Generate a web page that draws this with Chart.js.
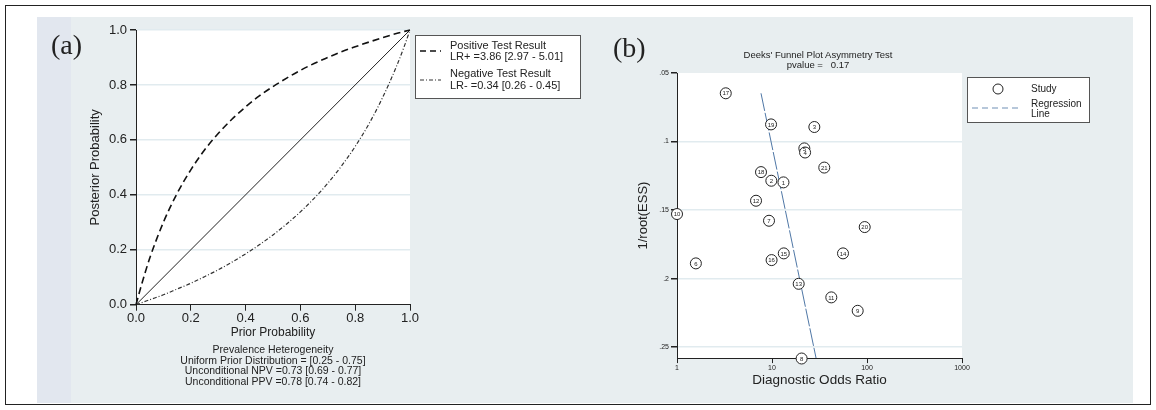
<!DOCTYPE html>
<html>
<head>
<meta charset="utf-8">
<script src="https://cdn.jsdelivr.net/npm/chart.js@4.4.1/dist/chart.umd.min.js"></script>
<style>
  body { margin: 0; background: #fff; font-family: "Liberation Sans", Arial, sans-serif; color: #222; }
  #wrap { position: relative; width: 1156px; height: 410px; overflow: hidden; }
  #frame { position: absolute; left: 5px; top: 5px; width: 1144px; height: 398px; border: 1px solid #222; }
  #bg { position: absolute; left: 37px; top: 17px; width: 1096px; height: 386px; background: #e8eef0; }
  #strip { position: absolute; left: 37px; top: 17px; width: 34px; height: 386px; background: #e2e7ef; }
  canvas { position: absolute; }
  .tag { position: absolute; font-family: "Liberation Serif", "Times New Roman", serif; font-size: 28px; line-height: 28px; }
  .notes { position: absolute; left: 136px; width: 274px; top: 344px; text-align: center; font-size: 10.5px; line-height: 10.5px; }
  .ttl { position: absolute; left: 668px; width: 300px; top: 50px; text-align: center; font-size: 9.5px; line-height: 9.5px; white-space: pre; }
</style>
</head>
<body>
<div id="wrap">
  <div id="frame"></div>
  <div id="bg"></div>
  <div id="strip"></div>
  <canvas id="fagan" width="563" height="386" style="left:37px;top:17px"></canvas>
  <canvas id="deeks" width="533" height="386" style="left:600px;top:17px"></canvas>
  <div class="tag" style="left:51px;top:31px">(a)</div>
  <div class="tag" style="left:613px;top:34px">(b)</div>
  <div class="notes">Prevalence Heterogeneity<br>Uniform Prior Distribution = [0.25 - 0.75]<br>Unconditional NPV =0.73 [0.69 - 0.77]<br>Unconditional PPV =0.78 [0.74 - 0.82]</div>
  <div class="ttl">Deeks' Funnel Plot Asymmetry Test
pvalue =   0.17</div>
</div>
<script>
// panel (a) - likelihood ratio curves
const priorProb = [0, 0.02, 0.05, 0.1, 0.15, 0.2, 0.25, 0.3, 0.35, 0.4, 0.45, 0.5, 0.55, 0.6, 0.65, 0.7, 0.75, 0.8, 0.85, 0.9, 0.95, 0.98, 1];
const posteriorPos = [0, 0.072, 0.169, 0.300, 0.405, 0.491, 0.563, 0.623, 0.675, 0.720, 0.760, 0.794, 0.825, 0.853, 0.878, 0.900, 0.921, 0.939, 0.956, 0.972, 0.987, 0.995, 1];
const posteriorNeg = [0, 0.007, 0.018, 0.036, 0.057, 0.078, 0.102, 0.127, 0.155, 0.185, 0.218, 0.254, 0.294, 0.338, 0.387, 0.442, 0.505, 0.576, 0.658, 0.754, 0.866, 0.943, 1];
const diagonal = [0, 1];
const probTicks = [0, 0.2, 0.4, 0.6, 0.8, 1];

// panel (b) - Deeks funnel plot
const studyIds = [17, 19, 3, 5, 4, 21, 18, 2, 1, 12, 10, 7, 20, 14, 15, 16, 6, 13, 11, 9, 8];
const studyDOR = [3.26, 9.77, 27.9, 21.9, 22.3, 35.5, 7.66, 9.84, 13.2, 6.79, 1.0, 9.3, 94.6, 55.9, 13.3, 9.9, 1.58, 19.1, 42.1, 79.8, 20.5];
const studyInvRootESS = [0.0648, 0.0875, 0.0894, 0.105, 0.108, 0.119, 0.1223, 0.1286, 0.1298, 0.1432, 0.1529, 0.1578, 0.1624, 0.1816, 0.1816, 0.1865, 0.1889, 0.2038, 0.2137, 0.2235, 0.2583];
const regDOR = [7.66, 29.1];
const regInvRootESS = [0.0648, 0.258];
const essTicks = [0.05, 0.1, 0.15, 0.2, 0.25];
const essTickLabels = ['.05', '.1', '.15', '.2', '.25'];
const dorTicks = [1, 10, 100, 1000];

Chart.defaults.font.family = '"Liberation Sans", Arial, sans-serif';
Chart.defaults.color = '#222';

const whiteArea = {
  id: 'whiteArea',
  beforeDraw(chart) {
    const a = chart.chartArea, c = chart.ctx;
    c.save();
    c.fillStyle = '#fff';
    c.fillRect(a.left, a.top, a.right - a.left, a.bottom - a.top);
    c.restore();
  }
};

function gridCol(skip) {
  return ctx => (ctx.tick && ctx.tick.value === skip) ? 'rgba(0,0,0,0)' : '#e1ebef';
}

function legendBox(c, x, y, w, h) {
  c.fillStyle = '#fff';
  c.fillRect(x, y, w, h);
  c.strokeStyle = '#555';
  c.lineWidth = 1;
  c.strokeRect(x + 0.5, y + 0.5, w, h);
}

function sampleLine(c, x1, x2, y, dash, col, lw) {
  c.beginPath();
  c.setLineDash(dash);
  c.strokeStyle = col;
  c.lineWidth = lw;
  c.moveTo(x1, y);
  c.lineTo(x2, y);
  c.stroke();
  c.setLineDash([]);
}

const faganLegend = {
  id: 'faganLegend',
  afterDraw(chart) {
    const c = chart.ctx;
    c.save();
    legendBox(c, 378, 18, 165, 63);
    sampleLine(c, 383, 404, 34, [6, 4], '#111', 1.5);
    sampleLine(c, 383, 404, 63, [4, 2, 1, 2], '#333', 1.2);
    c.fillStyle = '#222';
    c.font = '11px "Liberation Sans", Arial, sans-serif';
    c.textBaseline = 'middle';
    c.fillText('Positive Test Result', 413, 29);
    c.fillText('LR+ =3.86 [2.97 - 5.01]', 413, 40);
    c.fillText('Negative Test Result', 413, 57);
    c.fillText('LR- =0.34 [0.26 - 0.45]', 413, 69);
    c.restore();
  }
};

new Chart(document.getElementById('fagan'), {
  type: 'scatter',
  data: {
    datasets: [
      {
        label: 'Positive Test Result',
        data: priorProb.map((p, i) => ({ x: p, y: posteriorPos[i] })),
        showLine: true, borderColor: '#111', borderWidth: 1.6, borderDash: [7, 4],
        pointRadius: 0, cubicInterpolationMode: 'monotone', clip: 4
      },
      {
        label: 'Negative Test Result',
        data: priorProb.map((p, i) => ({ x: p, y: posteriorNeg[i] })),
        showLine: true, borderColor: '#333', borderWidth: 1.2, borderDash: [4, 2, 1, 2],
        pointRadius: 0, cubicInterpolationMode: 'monotone', clip: 4
      },
      {
        label: 'diagonal',
        data: diagonal.map(v => ({ x: v, y: v })),
        showLine: true, borderColor: '#222', borderWidth: 1,
        pointRadius: 0, clip: 4
      }
    ]
  },
  options: {
    responsive: false,
    animation: false,
    layout: { padding: { left: 47, right: 190, top: 13, bottom: 60 } },
    plugins: { legend: { display: false }, tooltip: { enabled: false } },
    scales: {
      x: {
        type: 'linear', min: 0, max: 1,
        afterBuildTicks: s => { s.ticks = probTicks.map(v => ({ value: v })); },
        ticks: { callback: v => v.toFixed(1), font: { size: 13, lineHeight: 1.1 }, padding: 1, maxRotation: 0 },
        grid: { drawOnChartArea: false, tickLength: 6, tickColor: '#222' },
        border: { color: '#222', width: 1 },
        title: { display: true, text: 'Prior Probability', font: { size: 12, lineHeight: 1 }, padding: { top: 0, bottom: 4 } }
      },
      y: {
        type: 'linear', min: 0, max: 1,
        afterBuildTicks: s => { s.ticks = probTicks.map(v => ({ value: v })); },
        afterFit: s => { s.width = 52; },
        ticks: { callback: v => v.toFixed(1), font: { size: 13 }, padding: 3 },
        grid: { color: gridCol(0), lineWidth: 1.5, tickLength: 6, tickColor: '#222' },
        border: { color: '#222', width: 1 },
        title: { display: true, text: 'Posterior Probability', font: { size: 13 } }
      }
    }
  },
  plugins: [whiteArea, faganLegend]
});

const studyLabels = {
  id: 'studyLabels',
  afterDatasetsDraw(chart) {
    const c = chart.ctx;
    const meta = chart.getDatasetMeta(0);
    c.save();
    c.fillStyle = '#222';
    c.font = '6px "Liberation Sans", Arial, sans-serif';
    c.textAlign = 'center';
    c.textBaseline = 'middle';
    meta.data.forEach((pt, i) => c.fillText(String(studyIds[i]), pt.x, pt.y + 0.5));
    c.restore();
  }
};

const deeksLegend = {
  id: 'deeksLegend',
  afterDraw(chart) {
    const c = chart.ctx;
    c.save();
    legendBox(c, 367, 60, 122, 45);
    c.beginPath();
    c.arc(398, 72, 5, 0, Math.PI * 2);
    c.fillStyle = '#fff';
    c.fill();
    c.strokeStyle = '#222';
    c.lineWidth = 1;
    c.stroke();
    sampleLine(c, 372, 422, 91, [6, 4], '#6f8fb5', 1);
    c.fillStyle = '#222';
    c.font = '10px "Liberation Sans", Arial, sans-serif';
    c.textBaseline = 'middle';
    c.fillText('Study', 431, 72);
    c.fillText('Regression', 431, 87);
    c.fillText('Line', 431, 97);
    c.restore();
  }
};

new Chart(document.getElementById('deeks'), {
  type: 'scatter',
  data: {
    datasets: [
      {
        label: 'Study',
        data: studyDOR.map((d, i) => ({ x: d, y: studyInvRootESS[i] })),
        pointRadius: 5.5, pointBorderWidth: 1, pointBorderColor: '#222', pointBackgroundColor: '#fff',
        clip: false
      },
      {
        label: 'Regression Line',
        data: regDOR.map((d, i) => ({ x: d, y: regInvRootESS[i] })),
        showLine: true, borderColor: '#4f77a6', borderWidth: 1, borderDash: [18, 2],
        pointRadius: 0
      }
    ]
  },
  options: {
    responsive: false,
    animation: false,
    layout: { padding: { left: 32, right: 171, top: 56, bottom: 12 } },
    plugins: { legend: { display: false }, tooltip: { enabled: false } },
    scales: {
      x: {
        type: 'logarithmic', min: 1, max: 1000,
        afterBuildTicks: s => { s.ticks = dorTicks.map(v => ({ value: v })); },
        ticks: { callback: v => String(v), font: { size: 7 }, padding: 1, maxRotation: 0, autoSkip: false },
        grid: { drawOnChartArea: false, tickLength: 5, tickColor: '#222' },
        border: { color: '#222', width: 1 },
        title: { display: true, text: 'Diagnostic Odds Ratio', font: { size: 13.5, lineHeight: 1 }, padding: { top: 0, bottom: 4 } }
      },
      y: {
        type: 'linear', reverse: true, min: 0.05, max: 0.258,
        afterBuildTicks: s => { s.ticks = essTicks.map(v => ({ value: v })); },
        afterFit: s => { s.width = 45; },
        ticks: { callback: (v, i) => essTickLabels[i], font: { size: 7 }, padding: 2, autoSkip: false },
        grid: { color: gridCol(0.05), lineWidth: 1.5, tickLength: 6, tickColor: '#222' },
        border: { color: '#222', width: 1 },
        title: { display: true, text: '1/root(ESS)', font: { size: 13 } }
      }
    }
  },
  plugins: [whiteArea, studyLabels, deeksLegend]
});
</script>
</body>
</html>
